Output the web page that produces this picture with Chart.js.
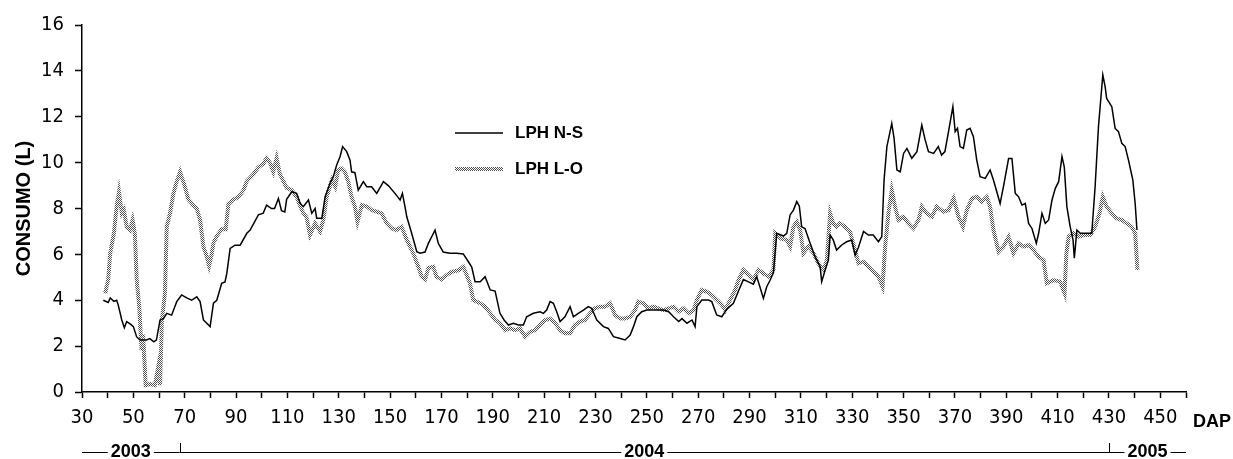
<!DOCTYPE html>
<html>
<head>
<meta charset="utf-8">
<script src="https://cdn.jsdelivr.net/npm/chart.js@4.4.1/dist/chart.umd.min.js"></script>
<style>
  html, body { margin: 0; padding: 0; background: #fff; }
  #wrap { width: 1233px; height: 459px; }
</style>
</head>
<body>
<div id="wrap"><canvas id="consumoChart" width="1233" height="459"></canvas></div>
<script>
// LPH N-S (solid line)
let nsDap = [38.3, 40.2, 41, 42.4, 43.5, 44.1, 45.5, 46.5, 47.4, 49, 50, 51.3, 52.6, 55.1, 56.4, 58, 59, 60.4, 61.7, 63,
  64.9, 66.9, 68.8, 70.8, 72.7, 74.7, 76, 77.3, 78.6, 79.9, 81.2, 82.5, 84.4, 85.7, 86.4, 87.7, 89.6, 91.6, 94.2, 95.5,
  98.7, 100.6, 101.9, 103.8, 105, 106.5, 107.7, 109, 109.7, 111.7, 113.6, 115, 116.2, 118.2, 119.5, 120.8, 121.4, 123.4, 124.7, 126.6,
  127.9, 129.2, 130.5, 131.5, 133.1, 134.4, 135, 136.3, 137.6, 139.6, 140.9, 142.8, 144.8, 147.4, 149.3, 151.9, 153.9, 154.8, 155.8, 156.5,
  158.4, 160.4, 161.7, 163.6, 164.9, 166.2, 167.5, 168.8, 170.7, 173.3, 175.9, 178.5, 180.5, 181.8, 183.1, 185.1, 187, 189, 190.9, 192.8,
  194.4, 196.1, 198, 200, 201.9, 203.2, 205.8, 208.4, 209.7, 211, 212.3, 213.6, 214.9, 216.2, 218.1, 220.1, 221.4, 223.3, 225.3, 227.2,
  228.5, 230.5, 233.1, 235, 237, 239.6, 241.5, 243.5, 244.8, 246.1, 248, 250, 252, 254.6, 256.5, 258.5, 260.4, 262.4, 263.7, 265.6,
  267.6, 268.8, 269.5, 271.4, 274, 275.3, 277.2, 279.2, 281.1, 283.7, 285.7, 287.6, 289.6, 291.5, 292.8, 294, 295.4, 296.7, 298, 299.3,
  300.6, 303.2, 304.5, 305.8, 307.1, 308.4, 309.4, 310.3, 311.6, 313.6, 315.5, 317.5, 318.1, 319.4, 320.7, 321.4, 322.6, 323.9, 325.9, 327.8,
  329.8, 331.1, 332.4, 334.4, 336.3, 338.2, 340.2, 341.5, 342.4, 343.5, 345.4, 346.3, 347.4, 348.7, 350, 351.3, 353.2, 355.2, 357.1, 358.4,
  359.7, 361.7, 363.5, 364.8, 366.1, 367.5, 369.2, 370.1, 371, 372, 373.3, 374.6, 375.9, 377.2, 378.5, 379.8, 381.8, 383.7, 385, 386.3,
  387.6, 388.9, 390.9, 392.2, 393.5, 394.8, 396.1, 397.4, 398.7, 400, 401.7, 402.6, 403.9, 405.2, 406.5, 407.8, 409.1, 410.4, 411.7, 412.6,
  413.6, 414.9, 416, 416.5, 417.5, 418.8, 421.4, 423.3, 424.6, 425.9, 427.6, 428.5, 429.1, 431.1, 432.4, 433.7, 435, 436.3, 437.6, 439.3,
  440.2, 440.9]
let nsVal = [4.0, 3.9, 4.1, 3.95, 4.0, 3.8, 3.14, 2.8, 3.07, 2.95, 2.85, 2.4, 2.27, 2.27, 2.33, 2.19, 2.27, 3.14, 3.2, 3.43,
  3.35, 3.94, 4.23, 4.1, 4.0, 4.15, 3.94, 3.14, 3.0, 2.85, 3.87, 4.0, 4.74, 4.8, 5.17, 6.26, 6.4, 6.4, 6.92, 7.06,
  7.72, 7.8, 8.15, 8.0, 8.0, 8.44, 7.9, 7.85, 8.4, 8.73, 8.66, 8.22, 8.08, 8.37, 7.79, 8.0, 7.57, 7.57, 8.51, 9.1,
  9.39, 9.9, 10.26, 10.7, 10.48, 10.11, 9.6, 9.56, 8.8, 9.17, 8.95, 8.95, 8.66, 9.17, 9.0, 8.66, 8.37, 8.66, 8.08, 7.64,
  6.92, 6.12, 6.05, 6.1, 6.48, 6.77, 7.06, 6.48, 6.1, 6.05, 6.05, 6.02, 5.68, 5.45, 4.81, 4.81, 5.03, 4.45, 4.4, 3.43,
  3.14, 2.92, 3.0, 2.92, 2.92, 3.28, 3.43, 3.5, 3.43, 3.57, 3.94, 3.87, 3.5, 3.07, 3.28, 3.72, 3.28, 3.43, 3.57, 3.72,
  3.65, 3.14, 2.85, 2.77, 2.41, 2.33, 2.27, 2.48, 2.85, 3.28, 3.5, 3.57, 3.57, 3.57, 3.57, 3.5, 3.28, 3.07, 3.2, 3.0,
  3.14, 2.85, 3.72, 4.01, 4.01, 3.94, 3.36, 3.28, 3.6, 3.87, 4.4, 4.9, 4.8, 4.7, 5.03, 4.6, 4.08, 4.59, 4.87, 5.2,
  6.92, 6.8, 6.92, 7.72, 7.93, 8.3, 8.1, 7.2, 7.13, 6.48, 5.9, 5.46, 4.81, 5.3, 5.75, 6.84, 6.63, 6.19, 6.41, 6.55,
  6.63, 5.97, 6.3, 7.0, 6.84, 6.84, 6.55, 6.77, 9.24, 10.7, 11.71, 11.06, 9.68, 9.6, 10.4, 10.62, 10.19, 10.48, 11.64, 10.99,
  10.48, 10.4, 10.7, 10.33, 10.48, 11.35, 12.44, 11.35, 11.5, 10.7, 10.62, 11.42, 11.5, 11.13, 10.11, 9.39, 9.31, 9.68, 9.24, 8.73,
  8.22, 8.95, 10.18, 10.18, 8.66, 8.51, 8.15, 8.22, 7.35, 7.13, 6.48, 6.92, 7.79, 7.35, 7.5, 8.37, 8.88, 9.17, 10.26, 9.8,
  8.08, 7.2, 6.63, 5.83, 7.06, 6.92, 6.92, 6.92, 8.95, 11.56, 13.82, 13.31, 12.8, 12.44, 11.49, 11.35, 10.84, 10.7, 10.11, 9.24,
  8.22, 7.06]

// LPH L-O (dithered grey line)
let loDap = [39, 40.2, 41, 42.4, 43.5, 44.4, 45.5, 46.3, 47.4, 48.7, 49.7, 50.6, 51.3, 52.3, 53.2, 53.8, 54.8, 56.4, 58.4, 59.7,
  60.4, 61.1, 62.3, 63, 64.3, 65.6, 66.9, 68.2, 69.2, 70.1, 71.4, 73.4, 74.7, 76, 77.3, 78.6, 79.5, 80.5, 81.2, 82.5,
  84.4, 86, 87, 89, 90.9, 92.9, 94.2, 96.8, 98.7, 100.6, 101.9, 103.2, 104.5, 105.8, 107.1, 108.4, 109.7, 111.7, 113.6, 115,
  116.2, 117.5, 118.8, 120.8, 122.7, 124, 125.3, 127.3, 128.6, 129.8, 131.1, 132.4, 133.7, 135, 136.3, 137.3, 139, 141, 142.8, 144.8,
  146.7, 148.7, 150.6, 152.5, 154.5, 156.5, 159, 161, 162.3, 163.6, 164.9, 166.8, 168.1, 170.1, 172, 174, 176.6, 178.5, 179.8, 181.1,
  182.4, 185.1, 187, 189, 190.9, 192.8, 194.8, 196.7, 198.7, 200.6, 202.6, 204.5, 206.5, 208.4, 210.4, 212.3, 214.3, 216.2, 218.1, 220.1,
  222, 224, 225.9, 227.9, 229.8, 231.8, 233.7, 235.7, 237.6, 239.6, 241.5, 243.5, 245.4, 246.7, 248.7, 250.6, 252.6, 254.5, 256.5, 258.5,
  260.4, 262.4, 264.3, 266.3, 268.2, 269.5, 271.4, 273.4, 275.3, 277.3, 279.2, 280.5, 282.4, 284.4, 285.7, 287.6, 289.6, 291.5, 293.5, 295.4,
  297.4, 299.3, 300, 301.9, 304.5, 305.8, 307.1, 308.4, 309.7, 311, 312.9, 314.9, 316.8, 318.8, 320.1, 321.4, 322.6, 323.9, 325.2, 327.2,
  329.1, 331.1, 332.4, 334.4, 336.3, 338.3, 340.2, 341.8, 342.8, 344.1, 345.4, 346.7, 348, 349.9, 351.9, 353.8, 355.8, 357.1, 359, 361,
  362.9, 365.5, 367.5, 369.5, 371.4, 373.1, 374.6, 376.6, 378.5, 380.5, 382.4, 383.7, 385, 387, 388.9, 390.9, 392.8, 394.8, 396.7, 398.7,
  400.6, 402.6, 404.5, 405.8, 408.4, 411, 412.7, 413.4, 414.3, 416.2, 418.2, 420.1, 422.7, 424.6, 426.3, 427.6, 429.1, 431.1, 433, 435,
  436.9, 438.9, 440.2, 441.1]
let loVal = [4.3, 4.9, 6.05, 6.9, 8.1, 8.73, 7.8, 7.95, 7.2, 7.06, 7.5, 6.9, 4.9, 3.72, 1.83, 2.5, 0.3, 0.35, 0.3, 1.1,
  0.3, 3.1, 4.3, 7.2, 7.8, 8.66, 9.17, 9.6, 9.25, 8.95, 8.4, 8.15, 8.0, 7.5, 6.33, 5.9, 5.5, 6.0, 6.5, 6.8,
  7.1, 7.1, 8.2, 8.4, 8.5, 8.8, 9.2, 9.5, 9.8, 9.95, 10.2, 10.0, 9.6, 10.2, 9.5, 9.2, 8.9, 8.8, 8.5, 8.1,
  7.8, 7.6, 6.84, 7.35, 7.0, 7.5, 8.51, 9.24, 8.95, 9.68, 9.75, 9.6, 9.17, 8.51, 8.08, 7.42, 8.15, 8.08, 7.93, 7.86,
  7.79, 7.35, 7.13, 7.06, 7.2, 6.63, 6.05, 5.46, 5.03, 4.9, 5.4, 5.46, 5.03, 4.9, 5.1, 5.24, 5.3, 5.46, 5.1, 4.74,
  4.01, 3.87, 3.72, 3.43, 3.14, 3.0, 2.7, 2.77, 2.7, 2.77, 2.41, 2.62, 2.7, 2.92, 3.14, 3.2, 3.0, 2.7, 2.56, 2.56,
  2.92, 3.07, 3.14, 3.43, 3.65, 3.72, 3.72, 3.87, 3.36, 3.2, 3.2, 3.28, 3.57, 3.94, 3.87, 3.65, 3.72, 3.65, 3.57, 3.65,
  3.72, 3.5, 3.65, 3.43, 3.57, 4.01, 4.45, 4.37, 4.23, 4.01, 3.8, 3.57, 4.01, 4.45, 4.88, 5.32, 5.1, 4.88, 5.32, 5.17,
  5.03, 5.32, 6.92, 6.7, 6.63, 6.34, 7.2, 7.42, 7.06, 6.05, 6.34, 6.05, 5.61, 5.32, 5.75, 7.79, 7.35, 7.2, 7.35, 7.2,
  7.0, 6.19, 5.61, 5.68, 5.46, 5.24, 5.03, 4.59, 6.33, 7.79, 8.8, 8.08, 7.5, 7.64, 7.35, 7.13, 7.5, 8.08, 7.79, 7.64,
  8.08, 7.86, 7.93, 8.44, 7.64, 7.2, 7.93, 8.44, 8.51, 8.3, 8.51, 8.08, 7.06, 6.12, 6.34, 6.77, 6.05, 6.48, 6.34, 6.41,
  6.19, 5.9, 5.75, 4.74, 4.88, 4.81, 4.3, 6.05, 6.77, 6.92, 6.77, 6.84, 6.84, 7.2, 7.79, 8.51, 8.08, 7.79, 7.57, 7.5,
  7.35, 7.2, 6.92, 5.32]

let seriesNames = ['LPH N-S', 'LPH L-O']
let yearLabels = ['2003', '2004', '2005']
let yearBounds = [30, 68, 430, 460]

let narrow = "'Liberation Sans Narrow', 'Arial Narrow', 'DejaVu Sans Condensed', sans-serif"
let bold = "'Liberation Sans', Arial, sans-serif"

let canvas = document.getElementById('consumoChart')
let ctx = canvas.getContext('2d')

// checkerboard dither like the original grey line
let tile = document.createElement('canvas')
tile.width = 2
tile.height = 2
let tctx = tile.getContext('2d')
tctx.fillStyle = '#505050'
tctx.fillRect(0, 0, 1, 1)
tctx.fillRect(1, 1, 1, 1)
let dither = ctx.createPattern(tile, 'repeat')

function toPoints(xs, ys) {
    return xs.map((x, i) => ({ x: x, y: ys[i] }))
}

// legend, DAP label and year row
let extras = {
    id: 'extras',
    afterDraw(chart) {
        let c = chart.ctx
        let xs = chart.scales.x
        c.save()
        // legend
        c.font = 'bold 17px ' + bold
        c.textBaseline = 'middle'
        c.textAlign = 'left'
        c.fillStyle = '#000'
        chart.data.datasets.forEach((ds, i) => {
            let y = 133 + i * 36
            c.beginPath()
            c.strokeStyle = ds.borderColor
            c.lineWidth = ds.borderWidth
            c.moveTo(455, y)
            c.lineTo(503, y)
            c.stroke()
            c.fillText(ds.label, 515, y)
        })
        // axis name
        c.font = 'bold 18px ' + bold
        c.fillText('DAP', chart.chartArea.right + 7, 422)
        // years
        let y = 452
        c.strokeStyle = '#000'
        c.lineWidth = 1
        c.textAlign = 'center'
        for (let i = 0; i < yearLabels.length; i++) {
            let x0 = xs.getPixelForValue(yearBounds[i])
            let x1 = xs.getPixelForValue(yearBounds[i + 1])
            let w = c.measureText(yearLabels[i]).width
            let mid = (x0 + x1) / 2
            c.beginPath()
            c.moveTo(x0, y + 0.5)
            c.lineTo(mid - w / 2 - 3, y + 0.5)
            c.moveTo(mid + w / 2 + 3, y + 0.5)
            c.lineTo(x1, y + 0.5)
            c.stroke()
            c.fillText(yearLabels[i], mid, y)
            if (i > 0) {
                c.beginPath()
                c.moveTo(Math.round(x0) + 0.5, y - 9)
                c.lineTo(Math.round(x0) + 0.5, y + 0.5)
                c.stroke()
            }
        }
        c.restore()
    }
}

let consumoChart = new Chart(ctx, {
    type: 'line',
    data: {
        datasets: [{
            label: seriesNames[0],
            data: toPoints(nsDap, nsVal),
            borderColor: '#000',
            borderWidth: 1.5,
            pointRadius: 0,
            fill: false,
            tension: 0
        }, {
            label: seriesNames[1],
            data: toPoints(loDap, loVal),
            borderColor: dither,
            borderWidth: 4,
            pointRadius: 0,
            fill: false,
            tension: 0
        }]
    },
    options: {
        responsive: false,
        animation: false,
        devicePixelRatio: 1,
        layout: { padding: { top: 25, right: 47, left: 0, bottom: 0 } },
        plugins: {
            legend: { display: false },
            tooltip: { enabled: false }
        },
        scales: {
            x: {
                type: 'linear',
                min: 30,
                max: 460,
                afterFit: s => { s.height = 67 },
                border: { color: '#000', width: 1.5 },
                grid: { drawOnChartArea: false, tickLength: 6, tickColor: '#000', tickWidth: 1.5 },
                ticks: {
                    stepSize: 10,
                    autoSkip: false,
                    maxRotation: 0,
                    padding: 8,
                    color: '#000',
                    font: { family: narrow, size: 20 },
                    callback: v => ((v - 30) % 20 === 0 && v <= 450) ? String(v) : ''
                }
            },
            y: {
                min: 0,
                max: 16,
                afterFit: s => { s.width = 82 },
                border: { color: '#000', width: 1.5 },
                grid: { drawOnChartArea: false, tickLength: 7, tickColor: '#000', tickWidth: 1.5 },
                ticks: {
                    stepSize: 2,
                    padding: 11,
                    color: '#000',
                    font: { family: narrow, size: 20 }
                },
                title: {
                    display: true,
                    text: 'CONSUMO (L)',
                    color: '#000',
                    padding: { top: 12, bottom: 0 },
                    font: { family: bold, size: 20, weight: 'bold' }
                }
            }
        }
    },
    plugins: [extras]
})
</script>
</body>
</html>
